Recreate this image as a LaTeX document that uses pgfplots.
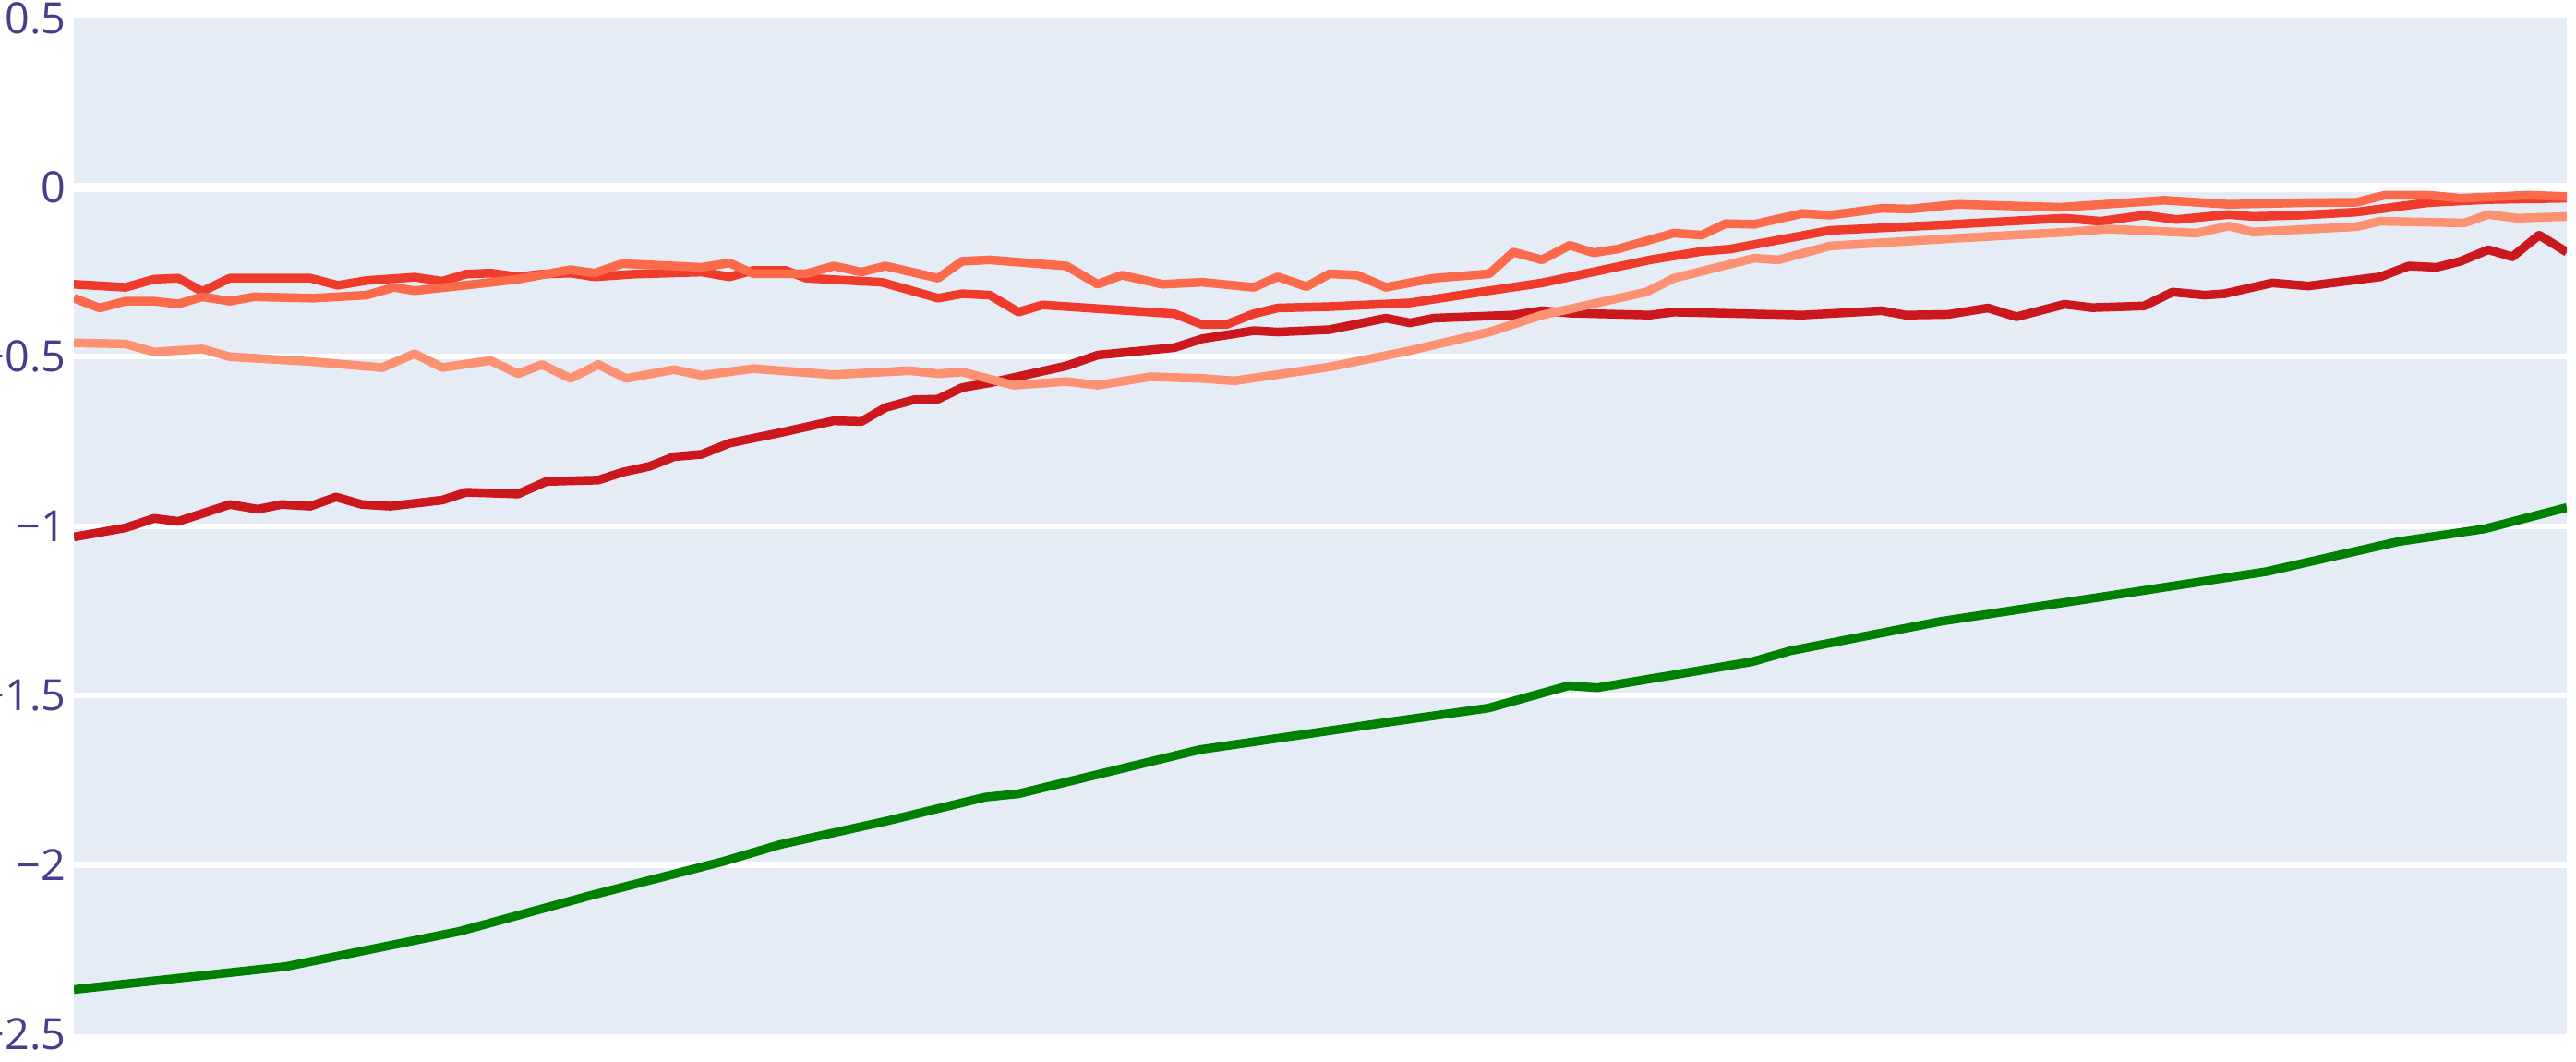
\documentclass[border=0pt]{standalone}
\usepackage{fontspec}
\setmainfont{Open Sans}
\usepackage{pgfplots}
\pgfplotsset{compat=1.18}
\usetikzlibrary{calc}
\definecolor{bg}{HTML}{E5ECF6}
\definecolor{tickc}{HTML}{483D8B}
\definecolor{cA}{HTML}{CB181D}
\definecolor{cB}{HTML}{EF3B2C}
\definecolor{cC}{HTML}{FB6A4A}
\definecolor{cD}{HTML}{FC9272}
\definecolor{cE}{HTML}{008000}
\begin{document}
\begin{tikzpicture}
\begin{axis}[
 scale only axis, width=270mm, height=110.05mm,
 xmin=0, xmax=2700, ymin=-2.5, ymax=0.5,
 axis background/.style={fill=bg},
 axis line style={draw=none},
 xtick=\empty,
 ytick={-2.5,-2,-1.5,-1,-0.5,0,0.5},
 yticklabels={−2.5,−2,−1.5,−1,−0.5,0,0.5},
 major tick length=0pt,
 yticklabel style={font=\fontsize{13.3}{15}\selectfont, text=tickc, anchor=east, inner sep=0pt, xshift=-0.8mm},
 extra y ticks={-2,-1.5,-1,-0.5},
 extra y tick labels={},
 extra y tick style={grid=major, major grid style={white, line width=1.8pt}},
 every axis plot/.append style={line width=2.7pt, no marks, line join=round},
]
\coordinate (ll) at (rel axis cs:0,0);
\coordinate (ur) at (rel axis cs:1,1);
\draw[white, line width=3pt] (axis cs:0,0) -- (axis cs:2700,0);
% A dark red
\addplot[cA] coordinates {
(0,-1.032) (56,-1.005) (87,-0.977) (113,-0.986) (169,-0.936) (199,-0.950) (225,-0.936) (256,-0.941)
(284,-0.914) (312,-0.936) (343,-0.941) (399,-0.923) (425,-0.900) (481,-0.905) (512,-0.868) (568,-0.864)
(594,-0.841) (624,-0.823) (650,-0.795) (680,-0.788) (710,-0.755) (767,-0.723) (823,-0.689) (853,-0.691)
(879,-0.650) (910,-0.627) (936,-0.625) (962,-0.591) (992,-0.577) (1075,-0.527) (1109,-0.495) (1192,-0.473)
(1222,-0.447) (1278,-0.423) (1304,-0.427) (1360,-0.420) (1421,-0.386) (1447,-0.400) (1473,-0.386) (1559,-0.377)
(1590,-0.364) (1620,-0.371) (1707,-0.377) (1733,-0.368) (1872,-0.377) (1958,-0.364) (1984,-0.377) (2030,-0.375)
(2073,-0.356) (2104,-0.382) (2156,-0.345) (2186,-0.355) (2242,-0.350) (2273,-0.309) (2308,-0.318) (2329,-0.314)
(2381,-0.282) (2420,-0.291) (2498,-0.264) (2529,-0.232) (2559,-0.236) (2585,-0.218) (2615,-0.184) (2641,-0.205)
(2670,-0.141) (2700,-0.191)
};
% B red
\addplot[cB] coordinates {
(0,-0.286) (56,-0.295) (87,-0.271) (113,-0.268) (139,-0.307) (169,-0.268) (256,-0.268) (286,-0.289)
(317,-0.275) (369,-0.265) (399,-0.277) (425,-0.256) (451,-0.253) (481,-0.264) (507,-0.256) (538,-0.253)
(564,-0.264) (607,-0.256) (680,-0.250) (710,-0.264) (736,-0.245) (771,-0.245) (793,-0.268) (875,-0.280)
(936,-0.327) (962,-0.314) (992,-0.318) (1023,-0.368) (1049,-0.347) (1192,-0.373) (1222,-0.405) (1248,-0.405)
(1278,-0.373) (1304,-0.356) (1360,-0.352) (1447,-0.341) (1533,-0.305) (1590,-0.282) (1707,-0.214) (1763,-0.189)
(1794,-0.182) (1902,-0.127) (2030,-0.110) (2156,-0.091) (2195,-0.100) (2242,-0.082) (2277,-0.095) (2334,-0.080)
(2360,-0.086) (2412,-0.082) (2472,-0.073) (2550,-0.045) (2615,-0.036) (2700,-0.032)
};
% C orange
\addplot[cC] coordinates {
(0,-0.327) (28,-0.356) (56,-0.336) (87,-0.336) (113,-0.344) (139,-0.323) (169,-0.336) (195,-0.323)
(260,-0.327) (317,-0.318) (347,-0.295) (369,-0.305) (434,-0.286) (481,-0.271) (538,-0.243) (564,-0.253)
(594,-0.225) (680,-0.236) (710,-0.223) (736,-0.255) (793,-0.255) (823,-0.232) (853,-0.250) (879,-0.232)
(936,-0.268) (962,-0.218) (992,-0.214) (1075,-0.232) (1109,-0.286) (1135,-0.259) (1179,-0.286) (1222,-0.280)
(1278,-0.295) (1304,-0.264) (1335,-0.293) (1360,-0.255) (1390,-0.259) (1421,-0.295) (1473,-0.268) (1533,-0.255)
(1559,-0.191) (1590,-0.214) (1620,-0.171) (1646,-0.193) (1672,-0.182) (1733,-0.135) (1763,-0.141) (1789,-0.107)
(1820,-0.109) (1872,-0.077) (1902,-0.082) (1958,-0.062) (1989,-0.064) (2040,-0.050) (2151,-0.059) (2264,-0.038)
(2334,-0.050) (2420,-0.045) (2472,-0.044) (2503,-0.023) (2550,-0.023) (2585,-0.032) (2659,-0.023) (2700,-0.027)
};
% D salmon
\addplot[cD] coordinates {
(0,-0.459) (56,-0.462) (87,-0.486) (139,-0.477) (169,-0.500) (256,-0.514) (334,-0.532) (369,-0.491)
(399,-0.532) (451,-0.511) (481,-0.550) (507,-0.523) (538,-0.564) (568,-0.523) (598,-0.564) (650,-0.538)
(680,-0.555) (736,-0.535) (823,-0.553) (905,-0.541) (936,-0.550) (962,-0.545) (1018,-0.584) (1075,-0.573)
(1109,-0.584) (1166,-0.559) (1222,-0.564) (1257,-0.571) (1360,-0.530) (1447,-0.482) (1533,-0.427) (1590,-0.377)
(1703,-0.309) (1733,-0.268) (1820,-0.209) (1846,-0.214) (1902,-0.173) (2040,-0.150) (2160,-0.132) (2203,-0.123)
(2299,-0.135) (2334,-0.114) (2360,-0.132) (2472,-0.116) (2498,-0.100) (2589,-0.105) (2615,-0.080) (2646,-0.091)
(2700,-0.086)
};
% E green
\addplot[cE] coordinates {
(0,-2.368) (230,-2.300) (418,-2.196) (560,-2.090) (703,-1.990) (765,-1.940) (881,-1.870) (987,-1.800)
(1023,-1.790) (1219,-1.660) (1420,-1.580) (1532,-1.537) (1619,-1.471) (1650,-1.477) (1818,-1.400) (1859,-1.368)
(2022,-1.281) (2220,-1.199) (2375,-1.134) (2517,-1.046) (2611,-1.008) (2700,-0.945)
};
\end{axis}
\pgfresetboundingbox
\path[use as bounding box] ($(ll)+(-8mm,-3mm)$) rectangle ($(ur)+(1mm,1.95mm)$);
\end{tikzpicture}
\end{document}
